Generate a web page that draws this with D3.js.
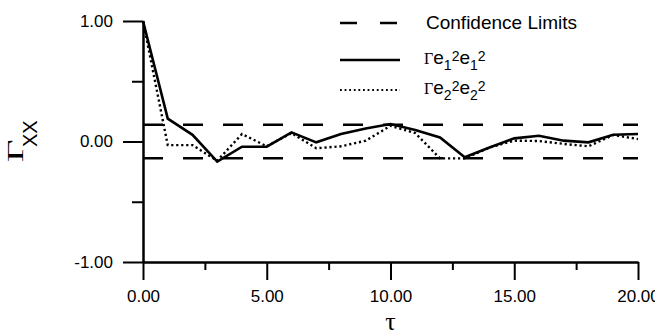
<!DOCTYPE html>
<html>
<head>
<meta charset="utf-8">
<script src="https://cdn.jsdelivr.net/npm/d3@7"></script>
<style>
  body { margin: 0; background: #fff; }
  svg { display: block; }
  text { fill: #000; }
  .axis text { font-family: "Liberation Sans", Arial, sans-serif; font-size: 17px; fill: #000; }
  .axis path, .axis line { stroke: #000; stroke-width: 2; }
</style>
</head>
<body>
<script>
// autocorrelation of squared residuals
var lags = [0, 1, 2, 3, 4, 5, 6, 7, 8, 9, 10, 11, 12, 13, 14, 15, 16, 17, 18, 19, 20];
var gammaE1 = [1.00, 0.19, 0.055, -0.167, -0.043, -0.043, 0.076, -0.007, 0.062, 0.108, 0.145,
  0.095, 0.034, -0.13, -0.05, 0.026, 0.048, 0.007, -0.007, 0.056, 0.062];
var gammaE2 = [1.00, -0.03, -0.03, -0.16, 0.062, -0.04, 0.07, -0.056, -0.04, 0.007, 0.13,
  0.07, -0.14, -0.14, -0.05, 0.007, 0.004, -0.02, -0.04, 0.054, 0.02];
var confLimits = [0.14, -0.14];

var xMajorTicks = [0, 5, 10, 15, 20];
var xMinorTicks = [2.5, 7.5, 12.5, 17.5];
var yMajorTicks = [-1, 0, 1];
var yMinorTicks = [-0.5, 0.5];

var width = 655, height = 336;

var svg = d3.select('body').append('svg')
  .attr('width', width)
  .attr('height', height);

var x = d3.scaleLinear().domain([0, 20]).range([143, 638]);
var y = d3.scaleLinear().domain([-1, 1]).range([262, 21]);
// plain hyphen for negatives, like the original
var fmt = function(v) { return d3.format('.2f')(v).replace('\u2212', '-'); };

// axes
svg.append('g')
  .attr('class', 'axis')
  .attr('transform', 'translate(' + x(0) + ',0)')
  .call(d3.axisLeft(y).tickValues(yMajorTicks).tickFormat(fmt)
    .tickSize(20).tickSizeOuter(0).tickPadding(10));
svg.append('g')
  .attr('class', 'axis')
  .attr('transform', 'translate(' + x(0) + ',0)')
  .call(d3.axisLeft(y).tickValues(yMinorTicks).tickFormat('')
    .tickSize(11).tickSizeOuter(0));
svg.append('g')
  .attr('class', 'axis')
  .attr('transform', 'translate(0,' + y(-1) + ')')
  .call(d3.axisBottom(x).tickValues(xMajorTicks).tickFormat(fmt)
    .tickSize(18).tickSizeOuter(0).tickPadding(10));
svg.append('g')
  .attr('class', 'axis')
  .attr('transform', 'translate(0,' + y(-1) + ')')
  .call(d3.axisBottom(x).tickValues(xMinorTicks).tickFormat('')
    .tickSize(8).tickSizeOuter(0));

// confidence limits
svg.selectAll('line.conf')
  .data(confLimits)
  .enter().append('line')
  .attr('class', 'conf')
  .attr('x1', x(0))
  .attr('x2', x(20))
  .attr('y1', function(d) { return y(d); })
  .attr('y2', function(d) { return y(d); })
  .attr('stroke', '#000')
  .attr('stroke-width', 2.5)
  .attr('stroke-dasharray', '20,20');

var line = d3.line()
  .x(function(d) { return x(d[0]); })
  .y(function(d) { return y(d[1]); });

svg.append('path')
  .datum(d3.zip(lags, gammaE2))
  .attr('d', line)
  .attr('fill', 'none')
  .attr('stroke', '#000')
  .attr('stroke-width', 2.4)
  .attr('stroke-dasharray', '2.2,2.8');

svg.append('path')
  .datum(d3.zip(lags, gammaE1))
  .attr('d', line)
  .attr('fill', 'none')
  .attr('stroke', '#000')
  .attr('stroke-width', 2.6)
  .attr('stroke-linejoin', 'miter');

// axis titles
var yTitle = svg.append('g').attr('transform', 'translate(23,162) rotate(-90)');
yTitle.append('text')
  .attr('transform', 'scale(1.7,1)')
  .style('font-family', '"Liberation Serif", "Times New Roman", serif')
  .style('font-size', '23px')
  .text('Γ');
yTitle.append('text')
  .attr('x', 15)
  .attr('y', 14)
  .style('font-family', '"Liberation Sans", Arial, sans-serif')
  .style('font-size', '20px')
  .text('XX');

svg.append('text')
  .attr('x', x(10))
  .attr('y', 330)
  .attr('text-anchor', 'middle')
  .style('font-family', '"Liberation Serif", "Times New Roman", serif')
  .style('font-size', '26px')
  .text('τ');

// legend
var legend = svg.append('g');
legend.append('line')
  .attr('x1', 340).attr('x2', 400).attr('y1', 23).attr('y2', 23)
  .attr('stroke', '#000').attr('stroke-width', 2.5).attr('stroke-dasharray', '17,23');
legend.append('line')
  .attr('x1', 340).attr('x2', 400).attr('y1', 60).attr('y2', 60)
  .attr('stroke', '#000').attr('stroke-width', 2.6);
legend.append('line')
  .attr('x1', 340).attr('x2', 400).attr('y1', 90).attr('y2', 90)
  .attr('stroke', '#000').attr('stroke-width', 2.2).attr('stroke-dasharray', '1.8,2.8');

legend.append('text')
  .attr('x', 426)
  .attr('y', 29)
  .style('font-family', '"Liberation Sans", Arial, sans-serif')
  .style('font-size', '19px')
  .text('Confidence Limits');

function gammaLabel(yBase, idx) {
  var t = legend.append('text')
    .attr('x', 424)
    .attr('y', yBase)
    .style('font-family', '"Liberation Sans", Arial, sans-serif')
    .style('font-size', '19px');
  t.append('tspan')
    .style('font-family', '"Liberation Serif", "Times New Roman", serif')
    .style('font-size', '16px')
    .text('Γ');
  for (var i = 0; i < 2; i++) {
    t.append('tspan').attr('y', yBase).text('e');
    t.append('tspan').attr('y', yBase + 6).style('font-size', '14px').text(idx);
    t.append('tspan').attr('y', yBase - 3).style('font-size', '14px').text('2');
  }
}
gammaLabel(64, '1');
gammaLabel(94, '2');
</script>
</body>
</html>
